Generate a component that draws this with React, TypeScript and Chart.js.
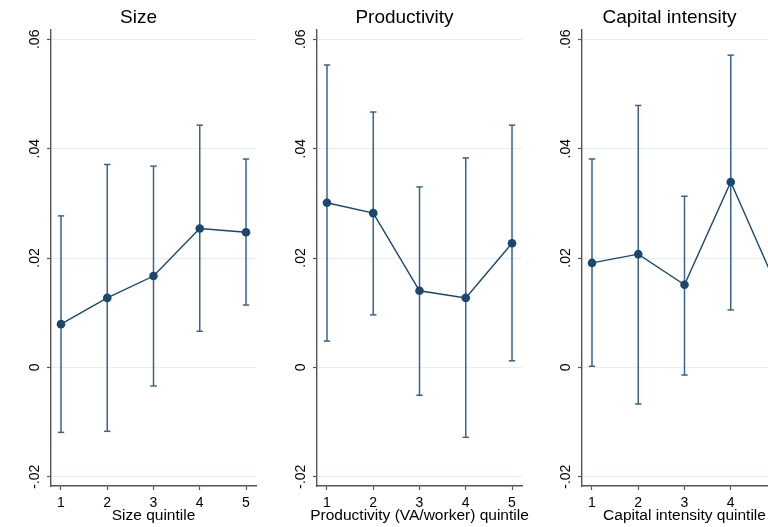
import React, { useEffect, useRef } from "react";
import { Chart, registerables } from "chart.js";
Chart.register(...registerables);

const FONT = '"Liberation Sans", Arial, Helvetica, sans-serif';
const NAVY = "#1a476f";
const CI = "#3a6390";
const AXIS = "#555555";
const GRID = "#e6eef0";

const quintiles = [1, 2, 3, 4, 5];
const yTicks = [-0.02, 0, 0.02, 0.04, 0.06];
const yTickLabels = ["-.02", "0", ".02", ".04", ".06"];

const sizeMean = [0.0079, 0.0127, 0.0167, 0.0254, 0.0247];
const sizeLow = [-0.0119, -0.0117, -0.0034, 0.0066, 0.0114];
const sizeHigh = [0.0277, 0.0371, 0.0368, 0.0443, 0.0381];

const prodMean = [0.0301, 0.0282, 0.014, 0.0127, 0.0227];
const prodLow = [0.0048, 0.0096, -0.0051, -0.0128, 0.0012];
const prodHigh = [0.0553, 0.0467, 0.033, 0.0383, 0.0443];

const capMean = [0.0191, 0.0207, 0.0151, 0.0339, 0.0147];
const capLow = [0.0002, -0.0067, -0.0014, 0.0105, -0.002];
const capHigh = [0.0381, 0.0479, 0.0313, 0.0571, 0.031];

const panels = [
  { title: "Size", xTitle: "Size quintile", mean: sizeMean, low: sizeLow, high: sizeHigh, left: 0 },
  { title: "Productivity", xTitle: "Productivity (VA/worker) quintile", mean: prodMean, low: prodLow, high: prodHigh, left: 266 },
  { title: "Capital intensity", xTitle: "Capital intensity quintile", mean: capMean, low: capLow, high: capHigh, left: 531 },
];

const axisTextPlugin = {
  id: "axisText",
  afterDraw(chart: any) {
    const ys = chart.scales.y;
    const ctx = chart.ctx;
    const area = chart.chartArea;
    ctx.save();
    ctx.font = `14px ${FONT}`;
    ctx.fillStyle = "#000";
    ctx.textAlign = "center";
    ctx.textBaseline = "alphabetic";
    yTicks.forEach((v, i) => {
      const py = ys.getPixelForValue(v);
      ctx.save();
      ctx.translate(ys.right - 12, py);
      ctx.rotate(-Math.PI / 2);
      ctx.fillText(yTickLabels[i], 0, 0);
      ctx.restore();
    });
    const xt = chart.options.plugins.axisText.xTitle;
    ctx.font = `15.5px ${FONT}`;
    ctx.textBaseline = "middle";
    ctx.fillText(xt, (area.left + area.right) / 2, chart.height - 1.5 - 9.3);
    ctx.restore();
  },
};

function Panel(props: any) {
  const ref = useRef<HTMLCanvasElement>(null);
  const { title, xTitle, mean, low, high } = props;
  useEffect(() => {
    if (!ref.current) return;
    const datasets: any[] = [
      {
        data: quintiles.map((q, i) => ({ x: q, y: mean[i] })),
        borderColor: NAVY,
        backgroundColor: NAVY,
        borderWidth: 1.4,
        pointRadius: 4.3,
        pointHoverRadius: 4.3,
        pointBackgroundColor: NAVY,
        pointBorderWidth: 0,
      },
      {
        data: quintiles.flatMap((q, i) => [
          { x: q, y: low[i] },
          { x: q, y: high[i] },
        ]),
        showLine: false,
        pointStyle: "line",
        pointRadius: 3.2,
        pointHoverRadius: 3.2,
        borderColor: CI,
        pointBorderColor: CI,
        pointBorderWidth: 1.5,
      },
      ...quintiles.map((q, i) => ({
        data: [
          { x: q, y: low[i] },
          { x: q, y: high[i] },
        ],
        borderColor: CI,
        borderWidth: 1.5,
        pointRadius: 0,
        pointHoverRadius: 0,
      })),
    ];
    const chart = new Chart(ref.current, {
      type: "line",
      data: { datasets },
      plugins: [axisTextPlugin],
      options: {
        animation: false,
        responsive: false,
        devicePixelRatio: 1,
        events: [],
        layout: { autoPadding: false, padding: { left: 21, right: 9, top: 0, bottom: 0 } },
        plugins: {
          legend: { display: false },
          tooltip: { enabled: false },
          axisText: { xTitle },
          title: {
            display: true,
            text: title,
            color: "#000",
            font: { family: FONT, size: 19, weight: "normal" },
            padding: { top: 6.5, bottom: 0.7 },
          },
        },
        scales: {
          x: {
            type: "linear",
            min: 0.784,
            max: 5.216,
            afterBuildTicks: (s: any) => {
              s.ticks = quintiles.map((v) => ({ value: v }));
            },
            afterFit: (s: any) => {
              s.height = 41;
            },
            ticks: {
              autoSkip: false,
              maxRotation: 0,
              padding: 5,
              color: "#000",
              font: { family: FONT, size: 14 },
              callback: (v: any) => String(v),
            },
            grid: {
              drawOnChartArea: false,
              drawTicks: true,
              tickLength: 4,
              tickColor: AXIS,
              tickWidth: 1.2,
            },
            border: { display: true, color: AXIS, width: 1.4 },
            title: { display: false },
          },
          y: {
            type: "linear",
            min: -0.0217,
            max: 0.0617,
            afterBuildTicks: (s: any) => {
              s.ticks = yTicks.map((v) => ({ value: v }));
            },
            afterFit: (s: any) => {
              s.width = 30;
            },
            ticks: { display: false },
            grid: {
              color: GRID,
              lineWidth: 1,
              drawTicks: true,
              tickLength: 4,
              tickColor: AXIS,
              tickWidth: 1.2,
            },
            border: { display: true, color: AXIS, width: 1.4 },
          },
        },
      } as any,
    });
    return () => chart.destroy();
  }, [title, xTitle, mean, low, high]);
  return (
    <canvas
      ref={ref}
      width={265}
      height={527}
      style={{ position: "absolute", left: props.left, top: 0, width: 265, height: 527 }}
    />
  );
}

export default function App() {
  return (
    <div
      style={{
        position: "fixed",
        left: 0,
        top: 0,
        width: 768,
        height: 527,
        overflow: "hidden",
        background: "#fff",
      }}
    >
      {panels.map((p) => (
        <Panel key={p.title} {...p} />
      ))}
    </div>
  );
}
